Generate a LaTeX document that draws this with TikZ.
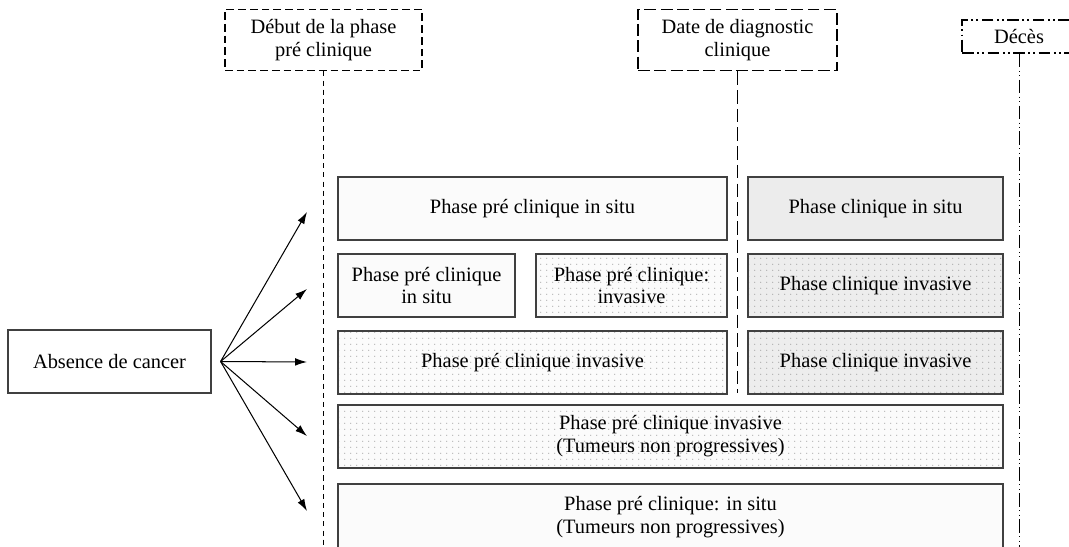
\documentclass[tikz,border=0pt]{standalone}
\usepackage{fontspec}
\setmainfont{Liberation Serif}
\usetikzlibrary{patterns,patterns.meta,arrows.meta}
\newlength\px
\setlength\px{0.588pt}

\tikzdeclarepattern{
  name=sparsedots,
  type=uncolored,
  bounding box={(0pt,0pt) and (3.6pt,3.6pt)},
  tile size={(3.6pt,3.6pt)},
  code={\pgfpathcircle{\pgfpoint{1.8pt}{1.8pt}}{0.45pt}\pgfusepath{fill}}
}

\begin{document}
\begin{tikzpicture}[x=\px,y=-\px,
  box/.style={draw=black!75,line width=0.7pt,align=center,inner sep=0pt,font=\fontsize{12}{13.5}\selectfont},
  plain/.style={box,fill=gray!3},
  shaded/.style={box,fill=gray!15},
  speckled/.style={box,preaction={fill=gray!3},pattern=sparsedots,pattern color=gray!55},
  speckledgrey/.style={box,preaction={fill=gray!14},pattern=sparsedots,pattern color=gray!60},
  datebox/.style={draw,line width=1pt,align=center,inner sep=0pt,font=\fontsize{12}{13.5}\selectfont},
  arr/.style={-{Latex[length=7pt,width=4.5pt]},line width=0.6pt}]

\useasboundingbox(0,0)rectangle(1069,547);
\clip(0,0)rectangle(1069,547);

%% dates
\node[datebox,dash pattern=on 4.5pt off 2.4pt,minimum width=197\px,minimum height=61\px](debut)at(323.5,40){Début de la phase\\pré clinique};
\node[datebox,dash pattern=on 7pt off 2.6pt,minimum width=199\px,minimum height=61\px](diag)at(737.5,40){Date de diagnostic\\clinique};
\node[datebox,dash pattern=on 7pt off 2pt on 1pt off 2pt on 1pt off 2pt,minimum width=114\px,minimum height=33\px](deces)at(1019,36.5){Décès};

\coordinate(fin1)at(323.5,547);
\coordinate(fin2)at(737.5,393);
\coordinate(fin3)at(1019,547);

\draw[line width=0.6pt,dash pattern=on 3pt off 2.4pt](debut)--(fin1);
\draw[line width=0.6pt,dash pattern=on 8pt off 3pt](diag)--(fin2);
\draw[line width=0.6pt,dash pattern=on 8pt off 2pt on 0.6pt off 2pt on 0.6pt off 2pt](deces)--(fin3);

%% phases
\node[plain,minimum width=389\px,minimum height=63\px](r1a)at(532.5,208.5){Phase pré clinique in situ};
\node[shaded,minimum width=255\px,minimum height=63\px](r1b)at(875.5,208.5){Phase clinique in situ};

\node[plain,minimum width=177\px,minimum height=63\px](r2a)at(426.5,285.5){Phase pré clinique\\in situ};
\node[speckled,minimum width=191\px,minimum height=63\px](r2b)at(631.5,285.5){Phase pré clinique:\\invasive};
\node[speckledgrey,minimum width=255\px,minimum height=63\px](r2c)at(875.5,285.5){Phase clinique invasive};

\node[speckled,minimum width=389\px,minimum height=63\px](r3a)at(532.5,362.5){Phase pré clinique invasive};
\node[speckledgrey,minimum width=255\px,minimum height=63\px](r3b)at(875.5,362.5){Phase clinique invasive};

\node[speckled,minimum width=665\px,minimum height=63\px](r4)at(670.5,436.5){Phase pré clinique invasive\\(Tumeurs non progressives)};
\node[plain,minimum width=665\px,minimum height=66\px](r5)at(670.5,517){Phase pré clinique: in situ\\(Tumeurs non progressives)};

%% depart
\node[box,minimum width=203\px,minimum height=63\px](absence)at(109.5,361.5){Absence de cancer};
\coordinate(S)at([xshift=9\px]absence.east);

\foreach \y [count=\i] in {212,289,362,436,511}
  \coordinate(t\i)at(307,\y);
\foreach \i in {1,...,5}
  \draw[arr](S)--(t\i);
\end{tikzpicture}
\end{document}
